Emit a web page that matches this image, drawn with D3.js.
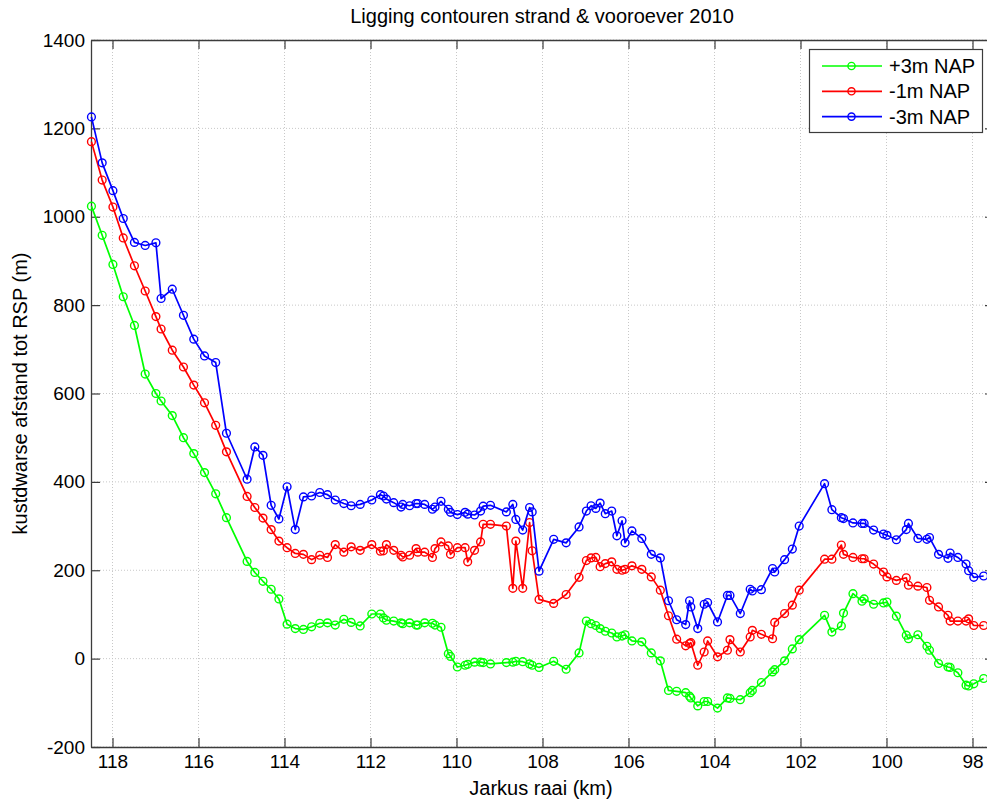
<!DOCTYPE html>
<html>
<head>
<meta charset="utf-8">
<script src="https://cdn.jsdelivr.net/npm/d3@7/dist/d3.min.js"></script>
<style>
  html, body { margin: 0; padding: 0; background: #fff; }
  svg { display: block; font-family: "Liberation Sans", Arial, Helvetica, sans-serif; }
</style>
</head>
<body>
<svg id="chart" width="987" height="803"></svg>
<script>
// ---- data ----
const raai = [
  118.49, 118.24, 117.99, 117.75, 117.49, 117.24, 116.99, 116.87, 116.61, 116.35,
  116.11, 115.86, 115.60, 115.35, 114.87, 114.69, 114.50, 114.31, 114.13, 113.94,
  113.75, 113.56, 113.37, 113.18, 113.00, 112.82, 112.62, 112.45, 112.24, 111.97,
  111.77, 111.70, 111.63, 111.46, 111.29, 111.25, 111.09, 110.94, 110.90, 110.74,
  110.56, 110.50, 110.36, 110.19, 110.14, 109.98, 109.80, 109.74, 109.58, 109.44,
  109.38, 109.21, 108.84, 108.69, 108.62, 108.46, 108.30, 108.24, 108.08, 107.74,
  107.45, 107.15, 106.98, 106.87, 106.76, 106.66, 106.54, 106.39, 106.27, 106.15,
  106.08, 105.92, 105.69, 105.47, 105.26, 105.07, 104.88, 104.67, 104.58, 104.55,
  104.39, 104.24, 104.16, 103.93, 103.70, 103.64, 103.40, 103.17, 103.12, 102.91,
  102.65, 102.60, 102.37, 102.19, 102.03, 101.44, 101.27, 101.05, 101.00, 100.78,
  100.57, 100.52, 100.30, 100.07, 99.99, 99.77, 99.54, 99.49, 99.27, 99.06,
  99.00, 98.79, 98.57, 98.52, 98.34, 98.15, 98.09, 97.97, 97.74
];
const plus3mNAP = [
  1024, 958, 892, 819, 754, 644, 600, 583, 550, 500,
  464, 421, 373, 319, 220, 195, 175, 157, 135, 78,
  68, 66, 72, 80, 81, 76, 89, 82, 74, 101,
  101, 92, 87, 85, 81, 79, 81, 76, 76, 81,
  80, 76, 71, 11, 5, -19, -15, -13, -8, -8,
  -9, -12, -9, -8, -6, -7, -12, -15, -20, -6,
  -24, 13, 85, 79, 75, 68, 62, 58, 49, 51,
  54, 40, 38, 13, -5, -72, -74, -77, -85, -89,
  -107, -97, -97, -112, -89, -90, -93, -77, -72, -54,
  -30, -25, -5, 22, 43, 98, 60, 74, 103, 147,
  130, 135, 123, 126, 128, 96, 53, 45, 54, 28,
  19, -11, -19, -20, -32, -60, -62, -57, -45
];
const min1mNAP = [
  1170, 1083, 1022, 952, 889, 832, 774, 746, 698, 660,
  619, 579, 528, 468, 367, 342, 318, 292, 266, 251,
  238, 236, 224, 234, 229, 258, 241, 253, 245, 258,
  243, 244, 258, 245, 234, 230, 234, 249, 241, 241,
  229, 249, 264, 255, 236, 251, 251, 219, 245, 264,
  304, 304, 300, 159, 266, 159, 308, 244, 134, 125,
  145, 184, 222, 228, 229, 208, 215, 219, 202, 200,
  202, 210, 202, 185, 155, 97, 44, 29, 34, 36,
  -15, 15, 40, 4, 19, 43, 15, 49, 64, 55,
  45, 82, 102, 121, 155, 225, 225, 257, 236, 229,
  226, 226, 214, 196, 185, 177, 183, 166, 164, 161,
  132, 117, 98, 85, 85, 85, 90, 75, 75
];
const min3mNAP = [
  1226, 1122, 1059, 996, 942, 935, 941, 815, 836, 777,
  723, 685, 670, 510, 406, 479, 460, 347, 316, 389,
  292, 366, 368, 376, 371, 359, 351, 346, 349, 359,
  371, 368, 361, 353, 343, 349, 346, 351, 351, 349,
  338, 343, 356, 338, 331, 326, 331, 327, 325, 334,
  345, 347, 332, 349, 315, 291, 342, 332, 198, 270,
  262, 298, 334, 346, 340, 352, 328, 334, 278, 312,
  262, 289, 272, 236, 228, 131, 88, 77, 131, 117,
  68, 123, 127, 83, 143, 143, 102, 157, 153, 156,
  204, 196, 224, 248, 300, 396, 337, 319, 317, 307,
  306, 306, 291, 282, 279, 269, 292, 306, 272, 270,
  274, 236, 227, 239, 229, 214, 199, 184, 187
];
const seriesNames = ["+3m NAP", "-1m NAP", "-3m NAP"];
const seriesColors = ["#00ff00", "#ff0000", "#0000ff"];
const xTicks = [118, 116, 114, 112, 110, 108, 106, 104, 102, 100, 98];
const yTicks = [-200, 0, 200, 400, 600, 800, 1000, 1200, 1400];
const titleText = "Ligging contouren strand & vooroever 2010";
const xLabelText = "Jarkus raai (km)";
const yLabelText = "kustdwarse afstand tot RSP (m)";

// ---- layout ----
const svg = d3.select("#chart");
const L = 91, R = 994, T = 40, B = 747;
const x = d3.scaleLinear().domain([118.5, 97.5]).range([L, R]);
const y = d3.scaleLinear().domain([-200, 1400]).range([B, T]);
const axisColor = "#3c3c3c";
const tickFont = 19;
const labelFont = 20;

// grid
const grid = svg.append("g");
grid.selectAll("line.gx").data(xTicks).join("line")
  .attr("x1", d => x(d)).attr("x2", d => x(d)).attr("y1", T).attr("y2", B)
  .attr("stroke", "#c8c8c8").attr("stroke-width", 1).attr("stroke-dasharray", "1,2");
grid.selectAll("line.gy").data(yTicks).join("line")
  .attr("x1", L).attr("x2", R).attr("y1", d => y(d)).attr("y2", d => y(d))
  .attr("stroke", "#c8c8c8").attr("stroke-width", 1).attr("stroke-dasharray", "1,2");

// axes (MATLAB style box with inward ticks)
const tickLen = 9;
const plainFmt = d => String(d);
const xAxisB = d3.axisBottom(x).tickValues(xTicks).tickSizeInner(-tickLen).tickSizeOuter(0).tickPadding(8).tickFormat(plainFmt);
const xAxisT = d3.axisTop(x).tickValues(xTicks).tickSizeInner(-tickLen).tickSizeOuter(0).tickFormat("");
const yAxisL = d3.axisLeft(y).tickValues(yTicks).tickSizeInner(-tickLen).tickSizeOuter(0).tickPadding(6).tickFormat(plainFmt);
const yAxisR = d3.axisRight(y).tickValues(yTicks).tickSizeInner(-tickLen).tickSizeOuter(0).tickFormat("");

function styleAxis(g) {
  g.selectAll("path.domain").attr("stroke", axisColor).attr("stroke-width", 1.3);
  g.selectAll(".tick line").attr("stroke", axisColor).attr("stroke-width", 1.2);
  g.selectAll("text").attr("fill", "#000").style("font-size", tickFont + "px")
    .style("font-family", "'Liberation Sans', Arial, Helvetica, sans-serif");
}
svg.append("g").attr("transform", `translate(0,${B})`).call(xAxisB).call(styleAxis);
svg.append("g").attr("transform", `translate(0,${T})`).call(xAxisT).call(styleAxis);
svg.append("g").attr("transform", `translate(${L},0)`).call(yAxisL).call(styleAxis);
svg.append("g").attr("transform", `translate(${R},0)`).call(yAxisR).call(styleAxis);

// series
const series = [plus3mNAP, min1mNAP, min3mNAP];
const line = d3.line().x(d => x(d[0])).y(d => y(d[1]));
series.forEach((vals, i) => {
  const pts = raai.map((r, k) => [r, vals[k]]);
  const g = svg.append("g");
  g.append("path").datum(pts).attr("d", line)
    .attr("fill", "none").attr("stroke", seriesColors[i]).attr("stroke-width", 1.7)
    .attr("stroke-linejoin", "round");
  g.selectAll("circle").data(pts).join("circle")
    .attr("cx", d => x(d[0])).attr("cy", d => y(d[1])).attr("r", 3.9)
    .attr("fill", "none").attr("stroke", seriesColors[i]).attr("stroke-width", 1.4);
});

// title & labels
svg.append("text").attr("x", 542).attr("y", 22.5).attr("text-anchor", "middle")
  .style("font-size", labelFont + "px").attr("fill", "#000").text(titleText);
svg.append("text").attr("x", 541).attr("y", 795).attr("text-anchor", "middle")
  .style("font-size", labelFont + "px").attr("fill", "#000").text(xLabelText);
svg.append("text").attr("transform", `translate(27,${(T + B) / 2}) rotate(-90)`)
  .attr("text-anchor", "middle").style("font-size", labelFont + "px").attr("fill", "#000").text(yLabelText);

// legend
const lg = svg.append("g").attr("transform", "translate(809,49)");
lg.append("rect").attr("x", 0.5).attr("y", 0.5).attr("width", 173).attr("height", 83)
  .attr("fill", "#fff").attr("stroke", axisColor).attr("stroke-width", 1.2);
seriesNames.forEach((name, i) => {
  const yy = 17 + i * 25.3;
  lg.append("line").attr("x1", 13).attr("x2", 73).attr("y1", yy).attr("y2", yy)
    .attr("stroke", seriesColors[i]).attr("stroke-width", 1.7);
  lg.append("circle").attr("cx", 42.5).attr("cy", yy).attr("r", 3.6)
    .attr("fill", "none").attr("stroke", seriesColors[i]).attr("stroke-width", 1.4);
  lg.append("text").attr("x", 80).attr("y", yy + 7).style("font-size", "20px").attr("fill", "#000").text(name);
});
</script>
</body>
</html>
